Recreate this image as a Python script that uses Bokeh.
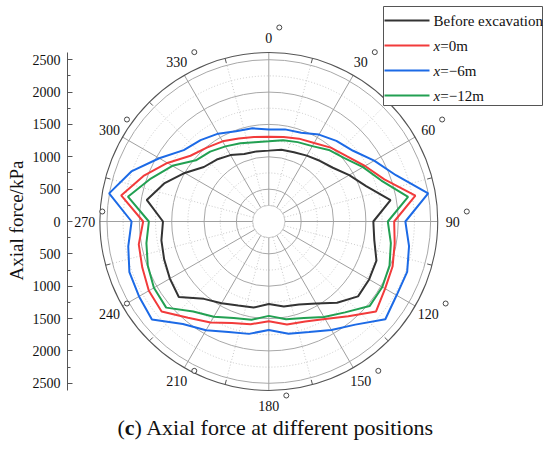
import numpy as np
from bokeh.plotting import figure
from bokeh.models import LinearAxis, FixedTicker
from bokeh.core.properties import value
from bokeh.embed import file_html
from bokeh.resources import INLINE

# ---------------- data ----------------
angles = [0, 10, 20, 30, 40, 50, 60, 70, 80, 90, 100, 110, 120, 130, 140, 150, 160, 170,
          180, 190, 200, 210, 220, 230, 240, 250, 260, 270, 280, 290, 300, 310, 320, 330, 340, 350]
before_excavation = [1095, 1125, 1138, 1175, 1225, 1292, 1435, 1600, 1910, 1615, 1655, 1770, 1790, 1800,
                     1640, 1465, 1365, 1335, 1275, 1350, 1382, 1460, 1560, 1815, 1765, 1720, 1685, 1635,
                     1915, 1720, 1500, 1310, 1250, 1185, 1110, 1100]
x_0m = [1310, 1325, 1362, 1400, 1490, 1570, 1715, 1900, 2300, 1937, 1975, 2035, 2075, 2163,
        1910, 1739, 1646, 1615, 1540, 1612, 1670, 1800, 1941, 2162, 2140, 2080, 2040, 1941,
        2316, 2060, 1810, 1580, 1490, 1430, 1365, 1325]
x_m6m = [1420, 1445, 1460, 1550, 1625, 1700, 1880, 2090, 2500, 2110, 2200, 2275, 2280, 2350,
         2080, 1935, 1817, 1760, 1675, 1763, 1817, 1940, 2066, 2357, 2315, 2292, 2205, 2120,
         2505, 2260, 1955, 1715, 1640, 1567, 1483, 1462]
x_m12m = [1240, 1275, 1305, 1345, 1443, 1525, 1680, 1850, 2185, 1839, 1915, 1985, 2025, 2033,
          1833, 1705, 1585, 1535, 1458, 1541, 1585, 1700, 1817, 2070, 2050, 1990, 1920, 1853,
          2210, 1940, 1720, 1470, 1410, 1340, 1285, 1245]

series_values = [before_excavation, x_0m, x_m6m, x_m12m]
series_colors = ["#333333", "#f23b3b", "#1c6ae6", "#22a052"]
legend_italic = ["", "x", "x", "x"]
legend_rest = ["Before excavation", "=0m", "=\u22126m", "=\u221212m"]

radial_major = [500, 1000, 1500, 2000, 2500]
radial_minor = [250, 750, 1250, 1750, 2250]
radial_outer = 2610
angle_major = [0, 30, 60, 90, 120, 150, 180, 210, 240, 270, 300, 330]
angle_minor = [15, 45, 75, 105, 135, 165, 195, 225, 255, 285, 315, 345]
axis_ticks = [-2500, -2000, -1500, -1000, -500, 0, 500, 1000, 1500, 2000, 2500]
axis_minor = [-2250, -1750, -1250, -750, -250, 250, 750, 1250, 1750, 2250]
caption = ["(", "c", ") Axial force at different positions"]

# ---------------- layout ----------------
FONT = "Liberation Serif"
S = 15.45                      # kPa per pixel
MARGIN = 0
FIG_W, FIG_H = 550, 455
BORDER_L = 67
BORDER_B = 15
CXP, CYP = 268.3, 221.0        # page pixel of polar centre
x_start = -(CXP - MARGIN - BORDER_L) * S
x_end = x_start + (FIG_W - BORDER_L) * S
y_end = (CYP - MARGIN) * S
y_start = y_end - (FIG_H - BORDER_B) * S


def px(xp):
    return (xp - CXP) * S


def py(yp):
    return (CYP - yp) * S


def pol(theta_deg, r):
    t = np.radians(np.asarray(theta_deg, dtype=float))
    r = np.asarray(r, dtype=float)
    return r * np.sin(t), r * np.cos(t)


p = figure(width=FIG_W, height=FIG_H, output_backend="svg", toolbar_location=None,
           x_range=(x_start, x_end), y_range=(y_start, y_end),
           x_axis_location=None, y_axis_location=None,
           min_border_left=BORDER_L, min_border_right=0, min_border_top=0,
           min_border_bottom=BORDER_B)
p.grid.visible = False
p.outline_line_color = None
p.background_fill_color = "white"
p.border_fill_color = "white"

# ---------------- polar grid ----------------
p.circle(x=[0] * len(radial_minor), y=[0] * len(radial_minor), radius=radial_minor,
         fill_color=None, line_color="#c4c4c4", line_width=0.9, line_dash="1 2")
p.circle(x=[0], y=[0], radius=[radial_minor[0]], fill_color=None, line_color="#c8c8c8", line_width=0.9)
p.circle(x=[0] * len(radial_major), y=[0] * len(radial_major), radius=radial_major,
         fill_color=None, line_color="#a8a8a8", line_width=1)

xa0, ya0 = pol(angle_minor, [radial_minor[0]] * len(angle_minor))
xa1, ya1 = pol(angle_minor, [radial_major[-1]] * len(angle_minor))
p.segment(x0=xa0, y0=ya0, x1=xa1, y1=ya1, line_color="#c4c4c4", line_width=0.9, line_dash="1 2")

xm0, ym0 = pol(angle_major, [radial_minor[0]] * len(angle_major))
xm1, ym1 = pol(angle_major, [radial_outer] * len(angle_major))
p.segment(x0=xm0, y0=ym0, x1=xm1, y1=ym1, line_color="#a0a0a0", line_width=1)

p.circle(x=[0], y=[0], radius=[radial_outer], fill_color=None, line_color="#555555", line_width=1.1)
xt0, yt0 = pol(angle_minor, [radial_outer] * len(angle_minor))
xt1, yt1 = pol(angle_minor, [radial_outer - 5 * S] * len(angle_minor))
p.segment(x0=xt0, y0=yt0, x1=xt1, y1=yt1, line_color="#555555", line_width=1)

# angle labels
lab_r = 184 * S
lx, ly = pol(angle_major, [lab_r] * len(angle_major))
labels = [str(a) for a in angle_major]
p.text(x=lx, y=ly, text=labels, text_align="center", text_baseline="middle",
       text_font=value(FONT), text_font_size="14px", text_color="#111111")
deg_x = [x + (len(t) * 3.5 + 7) * S for x, t in zip(lx, labels)]
deg_y = [y + 10 * S for y in ly]
p.scatter(x=deg_x, y=deg_y, marker="circle", size=5, fill_color="white",
          line_color="#333333", line_width=0.9)

# ---------------- series ----------------
for vals, col in zip(series_values, series_colors):
    xs, ys = pol(angles + [angles[0]], vals + [vals[0]])
    p.line(x=xs, y=ys, line_color=col, line_width=2)

# ---------------- left axis ----------------
ax = LinearAxis(ticker=FixedTicker(ticks=axis_ticks, minor_ticks=axis_minor),
                axis_label="Axial force/kPa")
ax.bounds = (-radial_outer, radial_outer)
ax.major_label_overrides = {t: str(abs(t)) for t in axis_ticks}
ax.axis_line_color = "#555555"
ax.major_tick_line_color = "#555555"
ax.minor_tick_line_color = "#555555"
ax.major_tick_in = 5
ax.major_tick_out = 0
ax.minor_tick_in = 3
ax.minor_tick_out = 0
ax.major_label_standoff = 7
ax.major_label_text_font = FONT
ax.major_label_text_font_size = "14px"
ax.major_label_text_color = "#111111"
ax.axis_label_text_font = FONT
ax.axis_label_text_font_size = "19px"
ax.axis_label_text_font_style = "normal"
ax.axis_label_text_color = "#111111"
ax.axis_label_standoff = 3
p.add_layout(ax, "left")

# ---------------- legend (manual) ----------------
p.quad(left=[px(383)], right=[px(542)], top=[py(6)], bottom=[py(105)],
       fill_color="white", line_color="#555555", line_width=1)
row_y = [20, 45, 70, 95]
for i, (col, it, rest) in enumerate(zip(series_colors, legend_italic, legend_rest)):
    yy = py(row_y[i])
    p.segment(x0=[px(384)], y0=[yy], x1=[px(429)], y1=[yy], line_color=col, line_width=2)
    off = 0
    if it:
        p.text(x=[px(433)], y=[yy], text=[it], text_align="left", text_baseline="middle",
               text_font=value(FONT), text_font_size="15px", text_font_style="italic",
               text_color="#111111")
        off = 6.8
    p.text(x=[px(433)], y=[yy], text=[rest], x_offset=off, text_align="left", text_baseline="middle",
           text_font=value(FONT), text_font_size="15px", text_color="#111111")

# ---------------- caption ----------------
cap_x, cap_y = px(117), py(427)
cap_offsets = [0, 7.3, 17.1]
cap_styles = ["normal", "bold", "normal"]
for t, o, st in zip(caption, cap_offsets, cap_styles):
    p.text(x=[cap_x], y=[cap_y], text=[t], x_offset=o, text_align="left", text_baseline="middle",
           text_font=value(FONT), text_font_size="22px", text_font_style=st, text_color="#111111")

open("out.html", "w").write(file_html(p, INLINE))
